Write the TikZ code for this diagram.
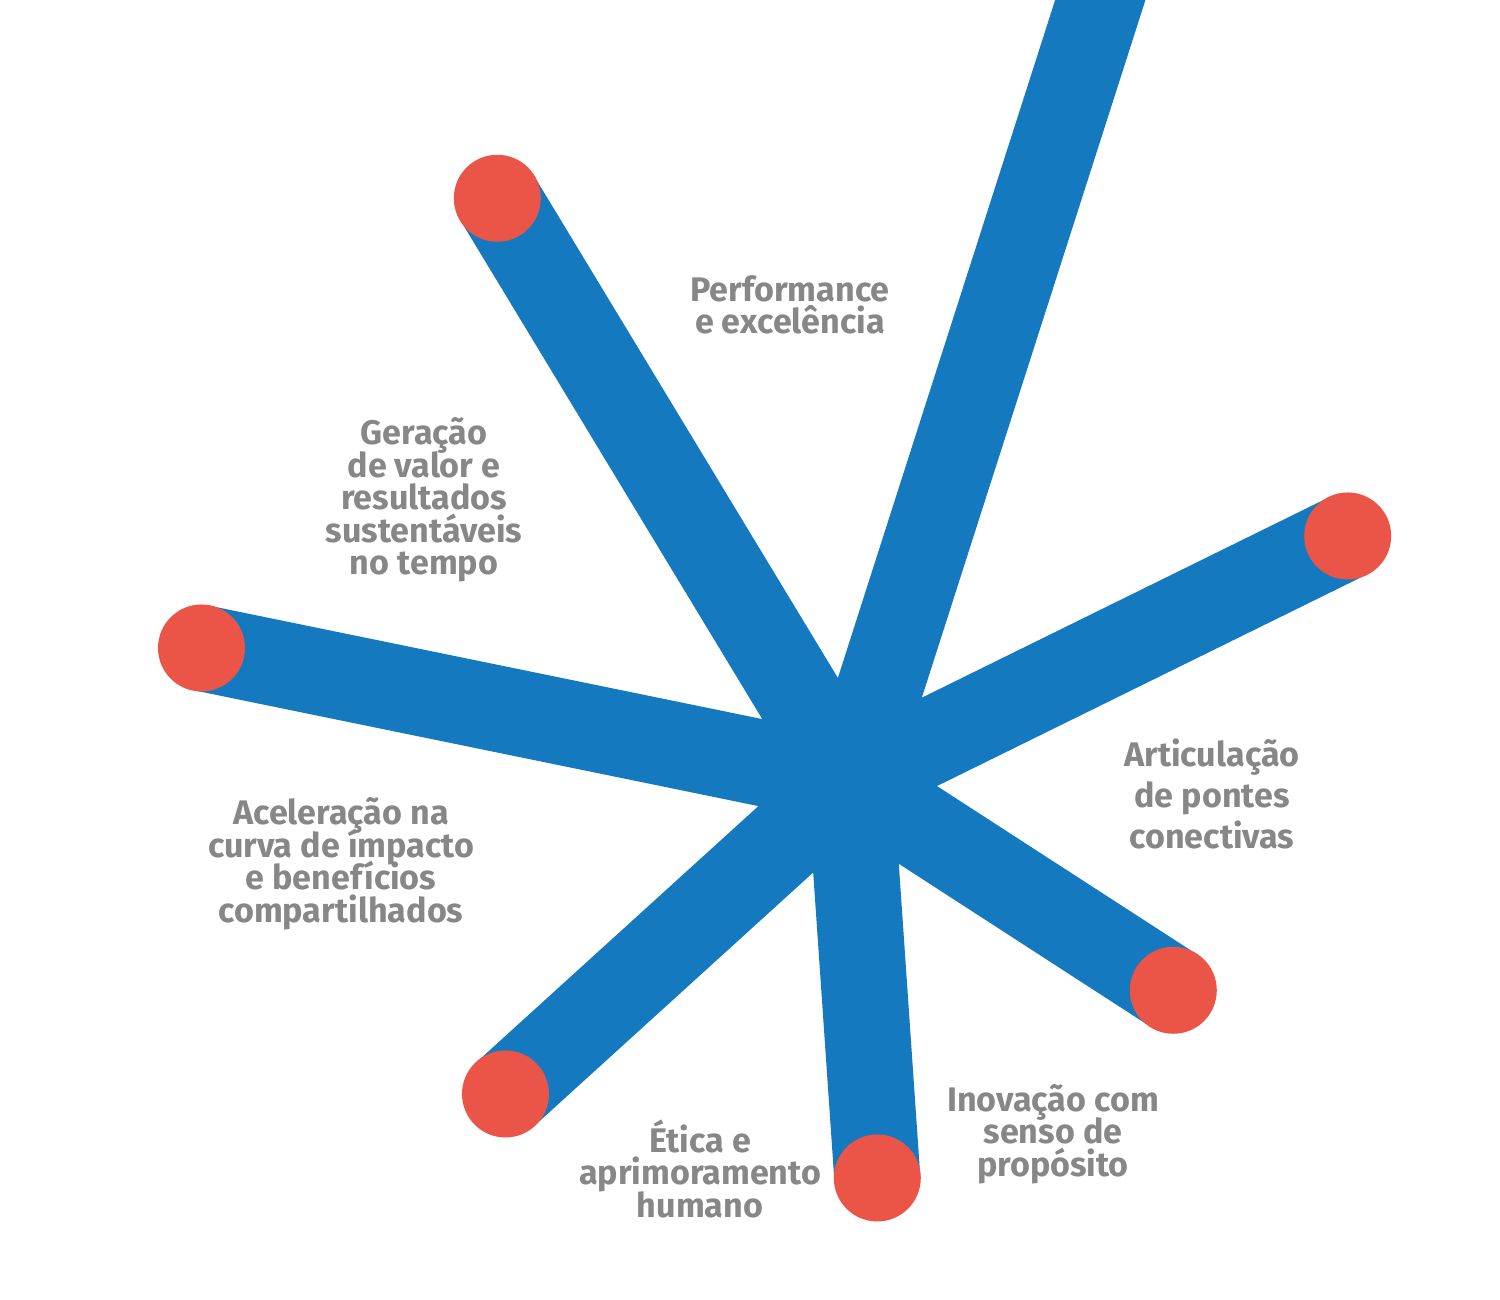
\documentclass[tikz,border=0pt]{standalone}
\usepackage{fontspec}
\setmainfont{Fira Sans}
\usetikzlibrary{calc}

\definecolor{barblue}{RGB}{20,121,190}
\definecolor{dotred}{RGB}{234,85,72}
\definecolor{labelgray}{RGB}{135,135,135}
\newcommand\tightlines{\lineskiplimit=-10pt\relax}

\begin{document}
\begin{tikzpicture}
  \tikzset{
    bar/.style={draw=barblue, line width=0.86cm, line cap=butt},
    dot/.style={circle, fill=dotred, minimum size=0.87cm, inner sep=0pt},
    label/.style={text=labelgray, align=center, inner sep=0pt,
      font=\bfseries\fontsize{9.7}{9.25}\selectfont\tightlines}
  }
  \useasboundingbox (0,0) rectangle (15,13);
  \clip (0,0) rectangle (15,13);

  % hub where all the bars meet
  \coordinate (hub) at (8.50,5.19);
  \coordinate (topend) at ($(hub)!1.1!(11.003,13)$);

  % red end points
  \foreach \name/\x/\y in {
    ul/4.973/11.017,
    rt/13.477/7.640,
    lt/2.015/6.520,
    lr/11.733/3.097,
    ll/5.055/2.060,
    bt/8.773/1.220
  }{
    \coordinate (\name-pos) at (\x,\y);
  }

  % bars first, dots on top
  \draw[bar] ($(hub)!-0.1cm!(topend)$) -- (topend);
  \foreach \name in {ul,rt,lt,lr,ll,bt}{
    \draw[bar] ($(hub)!-0.1cm!(\name-pos)$) -- (\name-pos);
  }
  \foreach \name in {ul,rt,lt,lr,ll,bt}{
    \node[dot] (\name) at (\name-pos) {};
  }

  % labels
  \node[label] (perf) at (7.90,9.95) {Performance\\e excelência};
  \node[label] (valor) at (4.24,8.00)
    {Geração\\de valor e\\resultados\\sustentáveis\\no tempo};
  \node[label, font=\bfseries\fontsize{9.7}{11.7}\selectfont\tightlines] (pontes) at (12.12,5.06)
    {Articulação\\de pontes\\conectivas};
  \node[label] (impacto) at (3.41,4.36)
    {Aceleração na\\curva de ímpacto\\e benefícios\\compartilhados};
  \node[label] (inov) at (10.53,1.66) {Inovação com\\senso de\\propósito};
  \node[label] (etica) at (7.00,1.31) {Ética e\\aprimoramento\\humano};
\end{tikzpicture}
\end{document}
